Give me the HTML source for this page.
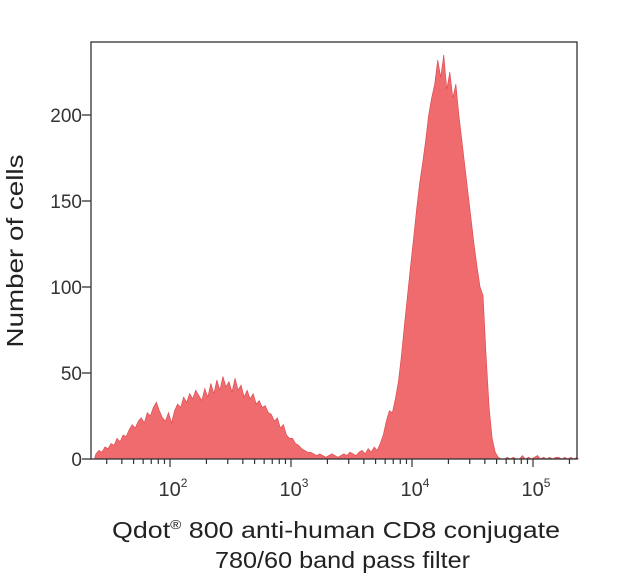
<!DOCTYPE html>
<html><head><meta charset="utf-8"><style>
body{margin:0;background:#fff;width:635px;height:577px;overflow:hidden}
svg{font-family:"Liberation Sans",sans-serif}
</style></head><body>
<svg id="c" width="635" height="577"></svg>
<script>
const logBinStart = 1.375;
const logBinStep = 0.025;
const counts = [
3,5,4,7,6,9,8,12,10,14,13,17,20,18,22,24,21,27,25,30,33,28,24,22,27,
21,28,32,30,36,33,38,35,40,37,34,41,36,44,38,46,40,48,42,45,39,47,40,43,36,40,35,38,32,34,30,31,27,26,22,24,18,20,14,12,
12,9,8,6,5,4,4,3,2,3,2,1,2,3,2,1,2,3,2,4,3,2,4,5,3,6,4,7,5,9,
14,22,28,27,35,45,60,78,95,112,128,145,160,172,185,200,210,218,232,222,235,215,225,210,218,200,185,170,155,140,125,112,100,95,60,30,12,4,1,0,
0,1,0,1,0,0,2,0,1,0,1,2,0,1,0,1,0,1,1,0,1,0,1,0,1];
const yTicks = [0,50,100,150,200];
const xDecades = [2,3,4,5];

const NS="http://www.w3.org/2000/svg";
const svg=document.getElementById('c');
const L=91,R=577,T=42,B=459;
const xs=k=>170+121*(k-2);
const ys=v=>B-v*(344/200);
function mk(t,a,p){const e=document.createElementNS(NS,t);for(const k in a)e.setAttribute(k,a[k]);(p||svg).appendChild(e);return e;}

let d=`M${xs(logBinStart)},${B}`;
counts.forEach((v,i)=>{const xc=xs(logBinStart+(i+0.5)*logBinStep);d+=` L${xc.toFixed(2)},${ys(v).toFixed(2)}`;});
d+=` L${xs(logBinStart+counts.length*logBinStep)},${B} Z`;
const area=mk('path',{d:d,fill:'#ef6b6e',stroke:'#d9464b','stroke-width':0.6});



const frame=mk('rect',{x:L,y:T,width:R-L,height:B-T,fill:'none',stroke:'#333','stroke-width':1.3});



yTicks.forEach(v=>{
 const y=ys(v);
 const tk=mk('line',{x1:L-9,x2:L,y1:y,y2:y,stroke:'#333','stroke-width':1.3});
 
 
 const t=mk('text',{x:L-9,y:y+7,'text-anchor':'end','font-size':19,fill:'#333'});
 t.textContent=v;
 
 
});

for(let dcd=1;dcd<=5;dcd++){
 for(let m=1;m<=9;m++){
  const k=dcd+Math.log10(m);
  const x=xs(k);
  if(x<L||x>R)continue;
  const mt=mk('line',{x1:x,x2:x,y1:B,y2:B+(m===1?8:5),stroke:'#333','stroke-width':1.2});
  
  
 }
}
xDecades.forEach(k=>{
 const t=mk('text',{x:xs(k)+3,y:B+37,'text-anchor':'middle','font-size':20,fill:'#333'});
 t.innerHTML=`10<tspan dy="-9" font-size="12">${k}</tspan>`;
 
 
});

const xt1=mk('text',{x:112,y:538,'font-size':23,fill:'#222',textLength:448,lengthAdjust:'spacingAndGlyphs'});
xt1.innerHTML='Qdot<tspan dy="-9" font-size="13">®</tspan><tspan dy="9"> 800 anti-human CD8 conjugate</tspan>';


const xt2=mk('text',{x:215,y:568,'font-size':23,fill:'#222',textLength:255,lengthAdjust:'spacingAndGlyphs'});
xt2.textContent='780/60 band pass filter';


const yt=mk('text',{x:0,y:0,'text-anchor':'middle','font-size':23,fill:'#222',textLength:193,lengthAdjust:'spacingAndGlyphs',transform:'translate(23,251) rotate(-90)'});
yt.textContent='Number of cells';


</script>
</body></html>
